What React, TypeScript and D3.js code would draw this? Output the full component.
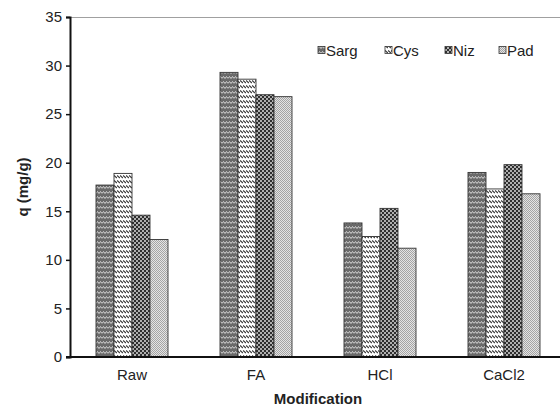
import React, { useEffect, useRef } from "react";
import * as d3 from "d3";

// Adsorption capacity by biomass modification
const categories = ["Raw", "FA", "HCl", "CaCl2"];
const seriesNames = ["Sarg", "Cys", "Niz", "Pad"];
const sarg = [17.7, 29.3, 13.8, 19.0];
const cys = [18.9, 28.6, 12.4, 17.3];
const niz = [14.6, 27.0, 15.3, 19.8];
const pad = [12.1, 26.8, 11.2, 16.8];
const yTicks = [0, 5, 10, 15, 20, 25, 30, 35];

const W = 560;
const H = 409;
const margin = { left: 70, top: 17, bottom: 52 };
const plotRight = 566;
const FONT = "'Liberation Sans', Arial, sans-serif";

export default function App() {
  const ref = useRef<SVGSVGElement | null>(null);

  useEffect(() => {
    const svg = d3.select(ref.current);
    svg.selectAll("*").remove();

    const series = [sarg, cys, niz, pad];
    const y0 = H - margin.bottom;

    const x = d3.scaleBand<string>().domain(categories).range([margin.left, plotRight]);
    const y = d3.scaleLinear().domain([0, 35]).range([y0, margin.top]);
    const groupW = 72;
    const xs = d3
      .scaleBand<string>()
      .domain(seriesNames)
      .range([0, groupW]);

    // Hatch fills for the four series
    const defs = svg.append("defs");
    const p0 = defs.append("pattern").attr("id", "pat-sarg").attr("patternUnits", "userSpaceOnUse").attr("width", 6).attr("height", 5);
    p0.append("rect").attr("width", 6).attr("height", 5).attr("fill", "#6a6a6a");
    p0.append("path").attr("d", "M0,3.5 L1.5,1.5 L3,3.5 L4.5,1.5 L6,3.5").attr("fill", "none").attr("stroke", "#d4d4d4").attr("stroke-width", 1);

    const p1 = defs.append("pattern").attr("id", "pat-cys").attr("patternUnits", "userSpaceOnUse").attr("width", 3).attr("height", 5);
    p1.append("rect").attr("width", 3).attr("height", 5).attr("fill", "#ffffff");
    p1.append("path").attr("d", "M0,0.5 L3,3").attr("stroke", "#3a3a3a").attr("stroke-width", 1.3);

    const p2 = defs.append("pattern").attr("id", "pat-niz").attr("patternUnits", "userSpaceOnUse").attr("width", 4).attr("height", 4);
    p2.append("rect").attr("width", 4).attr("height", 4).attr("fill", "#2e2e2e");
    p2.append("circle").attr("cx", 1).attr("cy", 1).attr("r", 0.95).attr("fill", "#e6e6e6");
    p2.append("circle").attr("cx", 3).attr("cy", 3).attr("r", 0.95).attr("fill", "#e6e6e6");

    const p3 = defs.append("pattern").attr("id", "pat-pad").attr("patternUnits", "userSpaceOnUse").attr("width", 2).attr("height", 2);
    p3.append("rect").attr("width", 2).attr("height", 2).attr("fill", "#e4e4e4");
    p3.append("rect").attr("width", 1).attr("height", 1).attr("fill", "#a4a4a4");
    p3.append("rect").attr("x", 1).attr("y", 1).attr("width", 1).attr("height", 1).attr("fill", "#a4a4a4");

    const fills = ["url(#pat-sarg)", "url(#pat-cys)", "url(#pat-niz)", "url(#pat-pad)"];

    // Plot area top border
    svg.append("line")
      .attr("x1", margin.left).attr("x2", W)
      .attr("y1", margin.top + 0.5).attr("y2", margin.top + 0.5)
      .attr("stroke", "#a0a0a0").attr("stroke-width", 1);

    // Bars
    categories.forEach((c, ci) => {
      const gx = (x(c) as number) + x.bandwidth() / 2 - groupW / 2;
      seriesNames.forEach((s, si) => {
        const v = series[si][ci];
        svg.append("rect")
          .attr("x", gx + (xs(s) as number))
          .attr("y", y(v))
          .attr("width", xs.bandwidth())
          .attr("height", y0 - y(v))
          .attr("fill", fills[si])
          .attr("stroke", "#333")
          .attr("stroke-width", 0.9);
      });
    });

    // Y axis
    const yAxis = svg.append("g")
      .attr("transform", `translate(${margin.left},0)`)
      .call(d3.axisLeft(y).tickValues(yTicks).tickSize(4).tickPadding(4).tickFormat(d3.format("d")));
    yAxis.select(".domain").attr("stroke", "#111").attr("stroke-width", 2);
    yAxis.selectAll(".tick line").attr("stroke", "#111").attr("stroke-width", 1.5);
    yAxis.selectAll(".tick text").attr("font-family", FONT).attr("font-size", 15).attr("fill", "#222");

    // X axis
    const xAxis = svg.append("g")
      .attr("transform", `translate(0,${y0})`)
      .call(d3.axisBottom(x).tickSize(0).tickPadding(12));
    xAxis.select(".domain").remove();
    svg.append("line")
      .attr("x1", margin.left - 4).attr("x2", W)
      .attr("y1", y0).attr("y2", y0)
      .attr("stroke", "#111").attr("stroke-width", 2);
    xAxis.selectAll(".tick text").attr("font-family", FONT).attr("font-size", 15).attr("fill", "#222");

    // Axis titles
    svg.append("text")
      .attr("x", (margin.left + W) / 2 + 3).attr("y", 404)
      .attr("text-anchor", "middle")
      .attr("font-family", FONT).attr("font-weight", "bold").attr("font-size", 15).attr("fill", "#222")
      .text("Modification");
    svg.append("text")
      .attr("transform", `translate(28,${(margin.top + y0) / 2}) rotate(-90)`)
      .attr("text-anchor", "middle")
      .attr("font-family", FONT).attr("font-weight", "bold").attr("font-size", 15).attr("fill", "#222")
      .text("q (mg/g)");

    // Legend
    const legendX = [318, 385, 445, 499];
    seriesNames.forEach((s, si) => {
      const g = svg.append("g").attr("transform", `translate(${legendX[si]},45)`);
      g.append("rect").attr("width", 7).attr("height", 7).attr("y", 1.5)
        .attr("fill", fills[si]).attr("stroke", "#333").attr("stroke-width", 0.8);
      g.append("text").attr("x", 8).attr("y", 11)
        .attr("font-family", FONT).attr("font-size", 15).attr("fill", "#222")
        .text(s);
    });
  }, []);

  return (
    <svg
      ref={ref}
      width={W}
      height={H}
      style={{ position: "absolute", left: 0, top: 0, background: "#fff" }}
    />
  );
}
